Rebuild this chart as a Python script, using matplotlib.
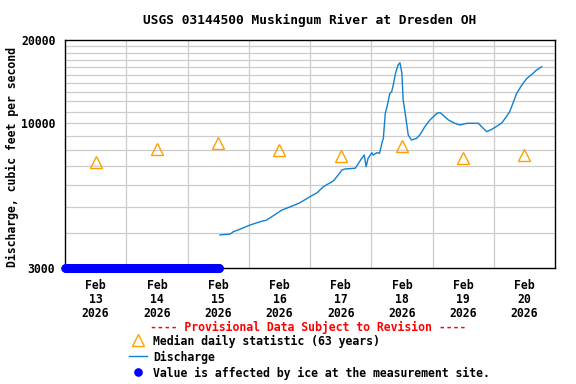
import numpy as np
import pandas as pd
import matplotlib
matplotlib.use("Agg")
import matplotlib.pyplot as plt
import matplotlib.dates as mdates
from matplotlib.ticker import FixedLocator, NullFormatter

# discharge readings, hours after 2026-02-13 00:00 and cfs
start = pd.Timestamp("2026-02-13 00:00")
q_hours = [60.75, 64.75, 66, 68.5, 72.5, 76.5, 79, 85, 88.25, 92,
           96, 98.75, 101.25, 105.25, 107.75, 108.5, 109.75, 113.75, 115, 116.25,
           117.25, 118, 118.75, 120.25, 120.75, 122.25, 123.25, 124, 124.75, 125.5,
           126.5, 127.25, 128, 128.75, 129.5, 130.5, 131.25, 132, 132.5, 133.5,
           134.5, 135.75, 137.75, 139, 141, 143, 145.75, 147, 148, 150.25,
           152.75, 154.75, 157.5, 162, 163.25, 165.25, 167.25, 169.25, 171, 172.5,
           174.25, 175.75, 177, 179, 181, 183, 184.75, 186.75]
q_cfs = [3950, 3980, 4060, 4140, 4290, 4410, 4470, 4860, 4990, 5160,
         5430, 5610, 5900, 6200, 6630, 6780, 6840, 6880, 7170, 7470,
         7680, 6970, 7470, 7830, 7680, 7830, 7790, 8350, 8850, 10870,
         11810, 12830, 13000, 13940, 15160, 16240, 16550, 15160, 12140, 10560,
         9070, 8700, 8820, 9070, 9720, 10280, 10870, 10930, 10720, 10280,
         10000, 9860, 10000, 10000, 9720, 9330, 9510, 9770, 10000, 10420,
         11010, 11970, 12830, 13750, 14540, 15040, 15580, 16010]

# median daily statistic (63 years), one per day at noon
days = ["2026-02-13", "2026-02-14", "2026-02-15", "2026-02-16",
        "2026-02-17", "2026-02-18", "2026-02-19", "2026-02-20"]
median_cfs = [7250, 8060, 8490, 8000, 7620, 8280, 7470, 7680]

# ice-affected period (15 minute values, reported as 0)
ice_start = "2026-02-13 00:00"
ice_end = "2026-02-15 12:30"

q_times = [start + pd.Timedelta(hours=h) for h in q_hours]
noon = [pd.Timestamp(d) + pd.Timedelta(hours=12) for d in days]
ice_times = pd.date_range(ice_start, ice_end, freq="15min")

mono = "DejaVu Sans Mono"
fs = 8.3

fig = plt.figure(figsize=(5.76, 3.84), dpi=100)
ax = fig.add_axes([65 / 576, 1 - 268 / 384, 490 / 576, 228 / 384])

ax.set_yscale("log")
ax.set_ylim(3000, 20000)
ax.set_xlim(start, start + pd.Timedelta(days=8))

# grid
minor_y = [4000, 5000, 6000, 7000, 8000, 9000, 10000, 11000, 12000, 13000,
           14000, 15000, 16000, 17000, 18000, 19000]
for v in minor_y:
    ax.axhline(v, color="#cccccc", lw=0.9, zorder=0)
for d in days[1:]:
    ax.axvline(pd.Timestamp(d), color="#cccccc", lw=0.9, zorder=0)

ax.plot(q_times, q_cfs, color="#1080d0", lw=1.0, zorder=3)
ax.plot(noon, median_cfs, linestyle="none", marker="^", markersize=8,
        markerfacecolor="none", markeredgecolor="#ffa000", markeredgewidth=1.0, zorder=4)
ax.plot(ice_times, [3000] * len(ice_times), linestyle="none", marker="o",
        markersize=5.2, color="#0000ff", clip_on=False, zorder=5)

ax.yaxis.set_major_locator(FixedLocator([3000, 10000, 20000]))
ax.yaxis.set_minor_locator(FixedLocator([]))
ax.yaxis.set_minor_formatter(NullFormatter())
ax.set_yticklabels(["3000", "10000", "20000"], family=mono, fontsize=fs, fontweight="bold")

ax.set_xticks([mdates.date2num(t) for t in noon])
ax.set_xticklabels([t.strftime("%b\n%d\n%Y").replace("\n0", "\n") for t in noon],
                   family=mono, fontsize=fs, fontweight="bold", linespacing=1.1)
ax.tick_params(axis="both", which="both", length=0)
ax.tick_params(axis="y", pad=7)
ax.tick_params(axis="x", pad=8)
for s in ax.spines.values():
    s.set_linewidth(1.0)
    s.set_color("black")

fig.text(310 / 576, 1 - 20 / 384, "USGS 03144500 Muskingum River at Dresden OH",
         ha="center", va="center", family=mono, fontsize=9.3, fontweight="bold")
fig.text(12 / 576, 1 - 157 / 384, "Discharge, cubic feet per second", rotation=90,
         ha="center", va="center", family=mono, fontsize=fs, fontweight="bold")

# legend block in pixel coordinates
lg = fig.add_axes([0, 0, 1, 1], zorder=-1)
lg.set_xlim(0, 576)
lg.set_ylim(384, 0)
lg.axis("off")
lg.text(308, 327, "---- Provisional Data Subject to Revision ----", color="#ff0000",
        ha="center", va="center", family=mono, fontsize=fs, fontweight="bold")
lg.plot([138], [340], marker="^", markersize=8, markerfacecolor="none",
        markeredgecolor="#ffa000", markeredgewidth=1.0)
lg.text(153, 341, "Median daily statistic (63 years)", ha="left", va="center",
        family=mono, fontsize=fs, fontweight="bold")
lg.plot([129, 147], [356, 356], color="#1080d0", lw=1.0)
lg.text(153, 357, "Discharge", ha="left", va="center",
        family=mono, fontsize=fs, fontweight="bold")
lg.plot([138], [372], marker="o", markersize=5.2, color="#0000ff")
lg.text(153, 373, "Value is affected by ice at the measurement site.", ha="left",
        va="center", family=mono, fontsize=fs, fontweight="bold")

fig.savefig("out.png", dpi=100)
